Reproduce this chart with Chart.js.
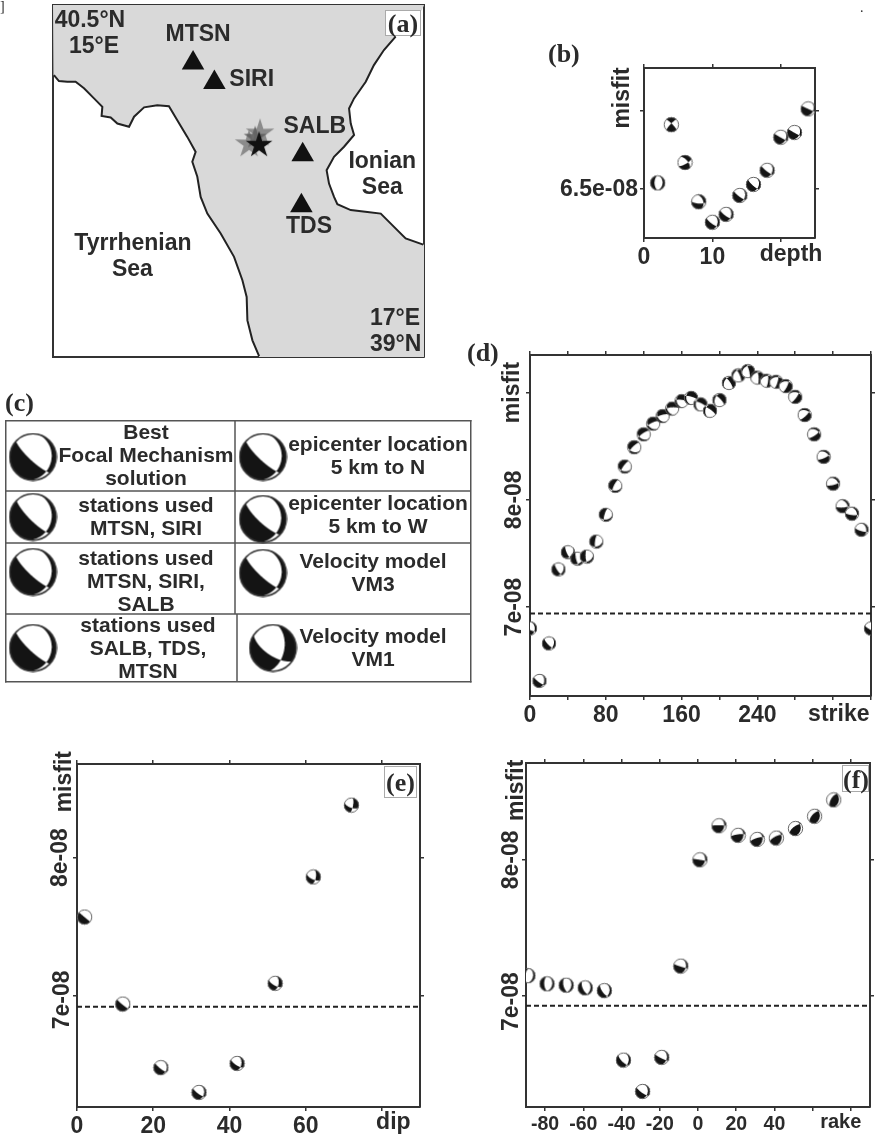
<!DOCTYPE html>
<html>
<head>
<meta charset="utf-8">
<style>
html, body { margin: 0; padding: 0; background: #fff; }
body { position: relative; width: 880px; height: 1142px; overflow: hidden; }
canvas { position: absolute; filter: blur(0.4px); }
.tag { position: absolute; z-index: 2; font: bold 26px "Liberation Serif"; color: #2b2b2b; line-height: 26px; text-align: center; filter: blur(0.4px); }
.boxed { background: #fff; border: 1px solid #aaa; box-sizing: border-box; }
</style>
<script src="https://cdn.jsdelivr.net/npm/chart.js@4"></script>
</head>
<body>
<div class="tag boxed" style="left:385px;top:10px;width:36px;height:26px">(a)</div>
<div class="tag" style="left:548px;top:41px">(b)</div>
<div class="tag" style="left:5px;top:390px">(c)</div>
<div class="tag" style="left:467px;top:340px">(d)</div>
<div class="tag" style="left:0;top:0;font-size:14px;font-weight:normal;line-height:14px">]</div>
<div class="tag" style="left:860px;top:1px;font-size:14px;font-weight:normal;line-height:14px">.</div>

<script>
// misfit values are in units of 1e-8

// (b) depth search
const depths = [2, 4, 6, 8, 10, 12, 14, 16, 18, 20, 22, 24];
const depthMisfit = [6.54, 6.91, 6.67, 6.42, 6.29, 6.34, 6.46, 6.53, 6.62, 6.83, 6.86, 7.01];
const depthStrike = [5, 315, 320, 340, 10, 10, 15, 20, 20, 25, 25, 25];
const depthDip = [35, 80, 60, 40, 32, 32, 30, 30, 30, 30, 30, 30];
const depthRake = [-85, 10, -20, -30, -30, -30, -25, -25, -20, -5, -5, 0];

// (d) strike search
const strikes = [0, 10, 20, 30, 40, 50, 60, 70, 80, 90, 100, 110, 120, 130, 140, 150, 160, 170, 180,
  190, 200, 210, 220, 230, 240, 250, 260, 270, 280, 290, 300, 310, 320, 330, 340, 350, 360];
const strikeMisfit = [6.80, 6.31, 6.66, 7.35, 7.51, 7.45, 7.47, 7.61, 7.86, 8.13, 8.31, 8.49, 8.61, 8.71, 8.78, 8.85, 8.92, 8.95, 8.89,
  8.83, 8.93, 9.09, 9.16, 9.20, 9.14, 9.11, 9.10, 9.06, 8.96, 8.79, 8.61, 8.40, 8.15, 7.94, 7.87, 7.72, 6.80];

// (e) dip search
const dips = [2, 12, 22, 32, 42, 52, 62, 72];
const dipMisfit = [7.57, 6.94, 6.48, 6.30, 6.51, 7.09, 7.86, 8.38];

// (f) rake search
const rakes = [-89, -79, -69, -59, -49, -39, -29, -19, -9, 1, 11, 21, 31, 41, 51, 61, 71];
const rakeMisfit = [7.15, 7.09, 7.08, 7.06, 7.04, 6.53, 6.30, 6.55, 7.22, 8.00, 8.25, 8.18, 8.15, 8.16, 8.23, 8.32, 8.44];

// best solution, used for the parameters not being searched
const bestStrike = 10;
const bestDip = 32;
const bestRake = -30;

// dashed threshold line per panel
const thresholdD = 6.94;
const thresholdE = 6.92;
const thresholdF = 6.93;

// (a) map, lon / lat
const westCoast = [[15.005,40.201],[15.032,40.176],[15.077,40.173],[15.122,40.173],[15.167,40.145],[15.221,40.102],[15.266,40.066],[15.262,40.027],[15.311,40.021],[15.347,39.995],[15.410,39.981],[15.437,40.024],[15.491,40.064],[15.562,40.073],[15.625,40.069],[15.670,40.009],[15.724,39.938],[15.769,39.874],[15.751,39.832],[15.778,39.768],[15.796,39.682],[15.832,39.611],[15.904,39.526],[15.976,39.427],[16.021,39.327],[16.044,39.256],[16.048,39.156],[16.075,39.071],[16.111,39.004]];
const eastCoast = [[16.847,40.365],[16.784,40.308],[16.730,40.244],[16.686,40.173],[16.623,40.102],[16.596,40.059],[16.605,39.995],[16.623,39.946],[16.569,39.896],[16.515,39.853],[16.475,39.796],[16.488,39.739],[16.515,39.682],[16.533,39.651],[16.605,39.626],[16.695,39.618],[16.767,39.611],[16.829,39.562],[16.901,39.505],[16.996,39.479]];
const stationLon = [15.755, 15.870, 16.346, 16.339];
const stationLat = [40.253, 40.170, 39.862, 39.644];
const epicenterLon = [16.116, 16.057, 16.090, 16.111];
const epicenterLat = [39.953, 39.907, 39.935, 39.903];
const mapNames = ['MTSN', 'SIRI', 'SALB', 'Ionian', 'Sea', 'TDS', 'Tyrrhenian', 'Sea', '40.5°N', '15°E', '17°E', '39°N'];
const mapNameLon = [15.782, 16.071, 16.411, 16.775, 16.775, 16.380, 15.431, 15.428, 15.199, 15.221, 16.844, 16.847];
const mapNameLat = [40.372, 40.180, 39.981, 39.832, 39.722, 39.557, 39.483, 39.373, 40.433, 40.322, 39.164, 39.053];

// (c) table
const tableText = [
  ['Best', 'Focal Mechanism', 'solution'], ['epicenter location', '5 km to N'],
  ['stations used', 'MTSN, SIRI'], ['epicenter location', '5 km to W'],
  ['stations used', 'MTSN, SIRI,', 'SALB'], ['Velocity model', 'VM3'],
  ['stations used', 'SALB, TDS,', 'MTSN'], ['Velocity model', 'VM1']
];
const tableTextX = [146, 378, 146, 378, 146, 373, 148, 373];
const tableTextY = [433, 445, 506, 504, 559, 562, 626, 637];
const tableBallX = [33, 263, 33, 263, 33, 263, 33, 273];
const tableBallY = [457, 457, 517, 519, 572, 573, 648, 648];
const tableStrike = [10, 10, 12, 8, 10, 10, 10, 10];
const tableDip = [22, 22, 22, 24, 22, 22, 22, 50];
const tableRake = [-35, -35, -35, -37, -35, -35, -35, -35];

const INK = '#2b2b2b';
const FONT = '"Liberation Sans"';

// lower hemisphere focal sphere, black where the first motion is compressional
function makeBall(size, strike, dip, rake) {
  const c = document.createElement('canvas');
  c.width = c.height = size + 2;
  const g = c.getContext('2d');
  const img = g.createImageData(c.width, c.height);
  const rad = Math.PI / 180;
  const sf = Math.sin(strike * rad), cf = Math.cos(strike * rad);
  const sd = Math.sin(dip * rad), cd = Math.cos(dip * rad);
  const sr = Math.sin(rake * rad), cr = Math.cos(rake * rad);
  const n = [-sd * sf, sd * cf, -cd];
  const d = [cr * cf + cd * sr * sf, cr * sf - cd * sr * cf, -sd * sr];
  const mid = c.width / 2, R = size / 2, sub = 4;
  for (let py = 0; py < c.height; py++) {
    for (let px = 0; px < c.width; px++) {
      let inside = 0, black = 0;
      for (let a = 0; a < sub; a++) {
        for (let b = 0; b < sub; b++) {
          const east = (px + (a + 0.5) / sub - mid) / R;
          const north = -(py + (b + 0.5) / sub - mid) / R;
          const r = Math.hypot(east, north);
          if (r > 1) continue;
          inside++;
          const i = 2 * Math.asin(r / Math.SQRT2);
          const az = Math.atan2(east, north);
          const v = [Math.sin(i) * Math.cos(az), Math.sin(i) * Math.sin(az), Math.cos(i)];
          const vn = v[0] * n[0] + v[1] * n[1] + v[2] * n[2];
          const vd = v[0] * d[0] + v[1] * d[1] + v[2] * d[2];
          if (vn * vd > 0) black++;
        }
      }
      if (!inside) continue;
      const k = (py * c.width + px) * 4;
      const shade = 255 - 235 * black / inside;
      img.data[k] = img.data[k + 1] = img.data[k + 2] = shade;
      img.data[k + 3] = 255 * inside / (sub * sub);
    }
  }
  g.putImageData(img, 0, 0);
  g.strokeStyle = size > 30 ? '#333' : '#666';
  g.lineWidth = size > 30 ? 1.6 : 1;
  g.beginPath();
  g.arc(mid, mid, R - 0.3, 0, Math.PI * 2);
  g.stroke();
  return c;
}

function makeStar(R, color) {
  const c = document.createElement('canvas');
  c.width = c.height = R * 2 + 2;
  const g = c.getContext('2d');
  g.fillStyle = color;
  g.beginPath();
  for (let i = 0; i < 10; i++) {
    const r = i % 2 ? R * 0.38 : R;
    const a = i * Math.PI / 5;
    g.lineTo(R + 1 + r * Math.sin(a), R + 1 - r * Math.cos(a));
  }
  g.closePath();
  g.fill();
  return c;
}

function addCanvas(left, top, w, h) {
  const c = document.createElement('canvas');
  c.width = w;
  c.height = h;
  c.style.left = left + 'px';
  c.style.top = top + 'px';
  document.body.appendChild(c);
  return c;
}

function boxedTag(text, left, top, w, h) {
  const d = document.createElement('div');
  d.className = 'tag boxed';
  d.style.cssText = 'left:' + left + 'px;top:' + top + 'px;width:' + w + 'px;height:' + h + 'px;line-height:' + h + 'px';
  d.textContent = text;
  document.body.appendChild(d);
}

// four axes so the frame and the ticks close on every side.
// labels get clipped to the scale box, so the left and bottom axes keep room for them
function frameScales(r, o) {
  o = o || {};
  const room = o.room || { left: 0, bottom: 0 };
  const axis = (id, min, max, pos, ticks, labels) => ({
    type: 'linear', position: pos, axis: id, min: min, max: max,
    reverse: !!(o.reverseY && id === 'y'),
    afterFit: s => {
      if (pos === 'bottom') s.height = room.bottom;
      else if (pos === 'left') s.width = room.left;
      else if (pos === 'top') s.height = 0;
      else s.width = 0;
    },
    afterBuildTicks: s => { s.ticks = ticks.map(v => ({ value: v })); },
    border: { display: true, width: o.frameWidth || 2, color: o.frameColor || '#333' },
    grid: { drawOnChartArea: false, drawTicks: ticks.length > 0, tickLength: 4, color: '#333', lineWidth: 1.5 },
    ticks: {
      display: labels.length > 0, autoSkip: false, minRotation: 0, maxRotation: 0, padding: 2,
      color: INK, font: { family: FONT, weight: 'bold', size: o.tickSize || 23 },
      callback: v => labels.includes(v) ? (o.yText && id === 'y' ? o.yText : String(v)) : ''
    }
  });
  return {
    x: axis('x', r.xMin, r.xMax, 'bottom', r.xTicks, r.xLabels),
    x2: axis('x', r.xMin, r.xMax, 'top', r.xTicks, []),
    y: axis('y', r.yMin, r.yMax, 'left', r.yTicks, r.yLabels),
    y2: axis('y', r.yMin, r.yMax, 'right', r.yTicks, [])
  };
}

function baseOptions(scales, pad) {
  return {
    responsive: false, animation: false, events: [],
    layout: { autoPadding: false, padding: pad },
    plugins: { legend: { display: false }, tooltip: { enabled: false } },
    scales: scales
  };
}

// text written on the chart; items use the chart's own scales
const textPlugin = items => ({
  id: 'chartText',
  afterDraw(chart) {
    const ctx = chart.ctx;
    ctx.save();
    ctx.fillStyle = INK;
    ctx.textAlign = 'center';
    ctx.textBaseline = 'middle';
    items.forEach(it => {
      ctx.font = 'bold ' + (it.size || 23) + 'px ' + FONT;
      ctx.save();
      if (it.off !== undefined) {
        ctx.translate(chart.chartArea.left - it.off, chart.scales.y.getPixelForValue(it.y));
        ctx.rotate(-Math.PI / 2);
        ctx.fillText(it.text, 0, 0);
      } else {
        ctx.fillText(it.text, chart.scales.x.getPixelForValue(it.x), chart.scales.y.getPixelForValue(it.y));
      }
      ctx.restore();
    });
    ctx.restore();
  }
});

function misfitPanel(f, xs, ys, balls, threshold, ranges, texts, extra) {
  const left = Math.min(f.x0, 90), bottom = 40, right = 8, top = 20;
  const c = addCanvas(f.x0 - left, f.y0 - top, f.x1 - f.x0 + left + right, f.y1 - f.y0 + top + bottom);
  const datasets = [{
    data: xs.map((x, i) => ({ x: x, y: ys[i] })),
    showLine: false, clip: 0,
    pointStyle: ctx => balls[ctx.dataIndex],
    pointRadius: 7
  }];
  if (threshold !== null) {
    datasets.push({
      data: [{ x: ranges.xMin, y: threshold }, { x: ranges.xMax, y: threshold }],
      showLine: true, pointRadius: 0, borderColor: '#222', borderWidth: 2, borderDash: [5, 3], clip: false
    });
  }
  new Chart(c, {
    type: 'scatter',
    data: { datasets: datasets },
    options: baseOptions(frameScales(ranges, Object.assign({ room: { left: left, bottom: bottom } }, extra)), { left: 0, right: right, top: top, bottom: 0 }),
    plugins: [textPlugin(texts)]
  });
}

// (a)
(function () {
  const f = { x0: 53, x1: 424, y0: 5, y1: 357 };
  const pad = 4;
  const c = addCanvas(f.x0 - pad, f.y0 - pad, f.x1 - f.x0 + pad * 2, f.y1 - f.y0 + pad * 2);
  const pts = a => a.map(p => ({ x: p[0], y: p[1] }));
  const land = [[15, 40.5], [15, 40.201]].concat(westCoast, [[16.111, 39], [17, 39], [17, 39.479]], eastCoast.slice().reverse(), [[16.99, 40.48], [17, 40.5]]);
  const stars = [makeStar(15, 'rgba(130,130,130,.9)'), makeStar(15, 'rgba(130,130,130,.9)'), makeStar(12, 'rgba(95,95,95,.9)'), makeStar(14, '#111')];
  new Chart(c, {
    type: 'scatter',
    data: {
      datasets: [
        { data: stationLon.map((x, i) => ({ x: x, y: stationLat[i] })), pointStyle: 'triangle', pointRadius: 13, backgroundColor: '#111', borderWidth: 0, order: 1 },
        { data: epicenterLon.map((x, i) => ({ x: x, y: epicenterLat[i] })), pointStyle: ctx => stars[ctx.dataIndex], pointRadius: 14, order: 2 },
        { data: pts(westCoast), showLine: true, pointRadius: 0, borderColor: '#222', borderWidth: 2, order: 3 },
        { data: pts(eastCoast), showLine: true, pointRadius: 0, borderColor: '#222', borderWidth: 2, order: 3 },
        { data: pts(land), showLine: true, pointRadius: 0, borderWidth: 0, backgroundColor: '#d9d9d9', fill: 'shape', order: 4 }
      ]
    },
    options: baseOptions(frameScales({ xMin: 15, xMax: 17, yMin: 39, yMax: 40.5, xTicks: [], yTicks: [], xLabels: [], yLabels: [] }), pad),
    plugins: [textPlugin(mapNames.map((t, i) => ({ text: t, x: mapNameLon[i], y: mapNameLat[i] })))]
  });
})();

// (b)
misfitPanel({ x0: 644, x1: 815, y0: 68, y1: 238 }, depths, depthMisfit,
  depths.map((_, i) => makeBall(15, depthStrike[i], depthDip[i], depthRake[i])), null,
  { xMin: 0, xMax: 25, yMin: 6.19, yMax: 7.27, xTicks: [0, 10, 20], yTicks: [6.5, 7], xLabels: [0, 10], yLabels: [6.5] },
  [{ text: 'misfit', off: 21, y: 7.08 }, { text: 'depth', x: 21.5, y: 6.083 }],
  { yText: '6.5e-08' });

// (c)
(function () {
  const x0 = 6, x1 = 471, y0 = 421, y1 = 682;
  const pad = 2;
  const c = addCanvas(x0 - pad, y0 - pad, x1 - x0 + pad * 2, y1 - y0 + pad * 2);
  const lines = [
    [[x0, 491], [x1, 491]], [[x0, 543], [x1, 543]], [[x0, 614], [x1, 614]],
    [[235, y0], [235, 614]], [[237, 614], [237, y1]]
  ];
  const balls = tableBallX.map((_, i) => makeBall(47, tableStrike[i], tableDip[i], tableRake[i]));
  const datasets = [{
    data: tableBallX.map((x, i) => ({ x: x, y: tableBallY[i] })),
    showLine: false, clip: false, pointStyle: ctx => balls[ctx.dataIndex], pointRadius: 24
  }].concat(lines.map(l => ({
    data: l.map(p => ({ x: p[0], y: p[1] })), showLine: true, pointRadius: 0, borderColor: '#555', borderWidth: 1.5
  })));
  const texts = [];
  tableText.forEach((rows, i) => rows.forEach((t, j) => {
    texts.push({ text: t, x: tableTextX[i], y: tableTextY[i] + j * 23, size: 21 });
  }));
  new Chart(c, {
    type: 'scatter',
    data: { datasets: datasets },
    options: baseOptions(frameScales({ xMin: x0, xMax: x1, yMin: y0, yMax: y1, xTicks: [], yTicks: [], xLabels: [], yLabels: [] },
      { reverseY: true, frameWidth: 1.5, frameColor: '#555' }), pad),
    plugins: [textPlugin(texts)]
  });
})();

// (d)
misfitPanel({ x0: 530, x1: 871, y0: 355, y1: 696 }, strikes, strikeMisfit,
  strikes.map(s => makeBall(14, s, bestDip, bestRake)), thresholdD,
  { xMin: 0, xMax: 360, yMin: 6.17, yMax: 9.35, xTicks: [0, 40, 80, 120, 160, 200, 240, 280, 320, 360], yTicks: [7, 8, 9], xLabels: [0, 80, 160, 240], yLabels: [] },
  [{ text: '7e-08', off: 15, y: 7 }, { text: '8e-08', off: 15, y: 8 }, { text: 'misfit', off: 17, y: 9 }, { text: 'strike', x: 326, y: 6.0 }]);

// (e)
misfitPanel({ x0: 77, x1: 420, y0: 764, y1: 1107 }, dips, dipMisfit,
  dips.map(d => makeBall(15, bestStrike, d, bestRake)), thresholdE,
  { xMin: 0, xMax: 90, yMin: 6.195, yMax: 8.678, xTicks: [0, 20, 40, 60, 80], yTicks: [7, 8], xLabels: [0, 20, 40, 60], yLabels: [] },
  [{ text: '7e-08', off: 14, y: 6.97 }, { text: '8e-08', off: 16, y: 8 }, { text: 'misfit', off: 12, y: 8.55 }, { text: 'dip', x: 83, y: 6.08 }]);
boxedTag('(e)', 384, 766, 33, 32);

// (f)
misfitPanel({ x0: 526, x1: 870, y0: 763, y1: 1107 }, rakes, rakeMisfit,
  rakes.map(r => makeBall(15, bestStrike, bestDip, r)), thresholdF,
  { xMin: -90, xMax: 90, yMin: 6.186, yMax: 8.711, xTicks: [-80, -60, -40, -20, 0, 20, 40, 60, 80], yTicks: [7, 8], xLabels: [-80, -60, -40, -20, 0, 20, 40], yLabels: [] },
  [{ text: '7e-08', off: 14, y: 6.96 }, { text: '8e-08', off: 14, y: 8 }, { text: 'misfit', off: 9, y: 8.51 }, { text: 'rake', x: 74.7, y: 6.075, size: 20 }],
  { tickSize: 19.5 });
boxedTag('(f)', 842, 765, 27, 27);
</script>
</body>
</html>
